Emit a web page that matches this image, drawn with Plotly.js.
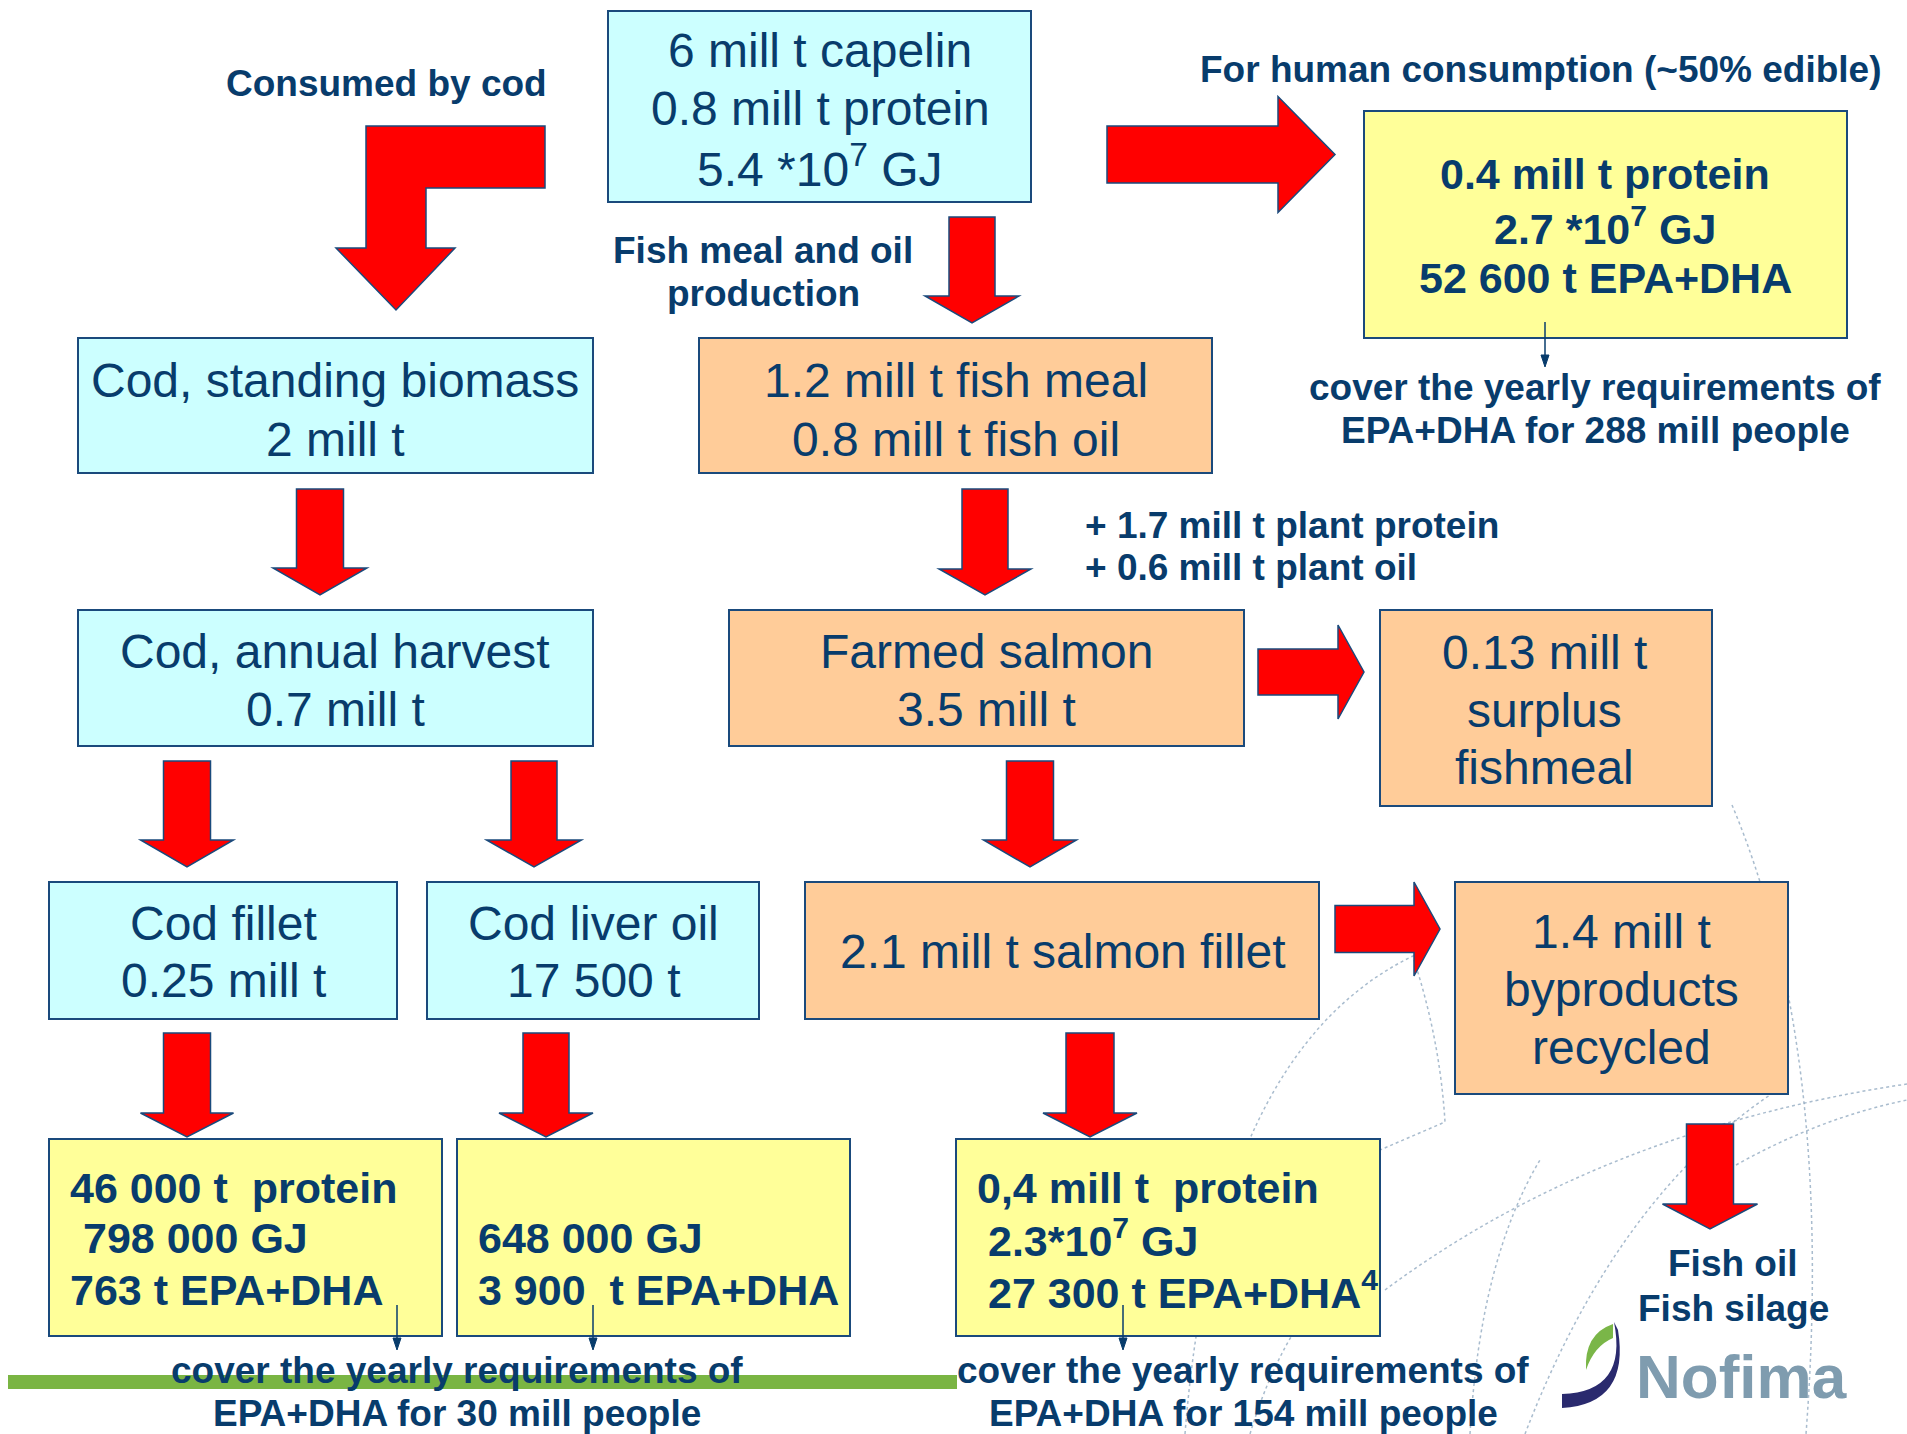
<!DOCTYPE html>
<html><head><meta charset="utf-8">
<script src="https://cdn.plot.ly/plotly-3.0.1.min.js"></script>
<style>html,body{margin:0;padding:0;background:#fff;overflow:hidden}</style>
</head><body><div id="chart" style="width:1907px;height:1434px"></div>
<script>
// ---------- DATA (texts / values) ----------
const capelinText      = ["6 mill t capelin", "0.8 mill t protein", "5.4 *10<sup>7</sup> GJ"];
const codBiomassText   = ["Cod, standing biomass", "2 mill t"];
const fishMealText     = ["1.2 mill t fish meal", "0.8 mill t fish oil"];
const codHarvestText   = ["Cod, annual harvest", "0.7 mill t"];
const salmonText       = ["Farmed salmon", "3.5 mill t"];
const surplusText      = ["0.13 mill t", "surplus", "fishmeal"];
const codFilletText    = ["Cod fillet", "0.25 mill t"];
const codLiverText     = ["Cod liver oil", "17 500 t"];
const salmonFilletText = ["2.1 mill t salmon fillet"];
const byproductText    = ["1.4 mill t", "byproducts", "recycled"];
const humanText        = ["0.4 mill t protein", "2.7 *10<sup>7</sup> GJ", "52 600 t EPA+DHA"];
const codFilletOut     = ["46 000 t\u00A0\u00A0protein", "798 000 GJ", "763 t EPA+DHA"];
const codLiverOut      = ["648 000 GJ", "3 900\u00A0\u00A0t EPA+DHA"];
const salmonOut        = ["0,4 mill t\u00A0\u00A0protein", "2.3*10<sup>7</sup> GJ", "27 300 t EPA+DHA<sup>4</sup>"];
const consumedLabel = ["Consumed by cod"];
const humanLabel    = ["For human consumption (~50% edible)"];
const fishmealLabel = ["Fish meal and oil", "production"];
const plantLabel    = ["+ 1.7 mill t plant protein", "+ 0.6 mill t plant oil"];
const fishoilLabel  = ["Fish oil", "Fish silage"];
const peopleCovered = [288, 30, 154];
const coverLine1 = "cover the yearly requirements of";
const coverLine2 = p => "EPA+DHA for " + p + " mill people";

// ---------- STYLE ----------
const NAVY = "#083C6C", BORDER = "#1A4A7C";
const CYAN = "#CCFFFF", ORANGE = "#FFCC99", YELLOW = "#FFFF99", RED = "#FF0000";
const REG = "Liberation Sans, Arial, sans-serif";
const shapes = [], ann = [];

// decorative dotted arcs (background)
const arcs = [
  "M 1732 805 Q 1835 1050 1806 1434",
  "M 1385 1290 Q 1600 1130 1907 1084",
  "M 1525 1434 Q 1615 1200 1770 1095",
  "M 1736 1165 Q 1820 1118 1907 1100",
  "M 1185 1434 Q 1215 1050 1415 955",
  "M 1414 960 Q 1440 1040 1445 1122 L 1380 1150",
  "M 1470 1434 Q 1480 1260 1540 1160",
  "M 1250 1434 Q 1290 1300 1380 1240"
];
arcs.forEach(p => shapes.push({type:"path", path:p, xref:"x", yref:"y", layer:"below",
  line:{color:"rgba(140,165,190,0.75)", width:1.5, dash:"dot"}}));

function box(x0, y0, x1, y1, fill) {
  shapes.push({type:"rect", xref:"x", yref:"y", x0, y0, x1, y1, fillcolor:fill,
    line:{color:BORDER, width:2}});
}
function txt(x, y, t, size, bold, anchor, color, fam) {
  ann.push({x, y, xref:"x", yref:"y", text: bold ? "<b>"+t+"</b>" : t, showarrow:false,
    xanchor: anchor || "center", yanchor:"middle",
    font:{family: fam || REG, size, color: color || NAVY}});
}
function down(cx, top, hs, tip, sh, hh) {
  const p = `M ${cx-sh} ${top} L ${cx+sh} ${top} L ${cx+sh} ${hs} L ${cx+hh} ${hs} L ${cx} ${tip} L ${cx-hh} ${hs} L ${cx-sh} ${hs} Z`;
  shapes.push({type:"path", path:p, xref:"x", yref:"y", fillcolor:RED, line:{color:BORDER, width:1.5}});
}
function right(left, hs, tip, cy, sh, hh) {
  const p = `M ${left} ${cy-sh} L ${hs} ${cy-sh} L ${hs} ${cy-hh} L ${tip} ${cy} L ${hs} ${cy+hh} L ${hs} ${cy+sh} L ${left} ${cy+sh} Z`;
  shapes.push({type:"path", path:p, xref:"x", yref:"y", fillcolor:RED, line:{color:BORDER, width:1.5}});
}
function thin(x, y0, y1) {
  shapes.push({type:"line", xref:"x", yref:"y", x0:x, x1:x, y0, y1:y1-10, line:{color:NAVY, width:1.5}});
  shapes.push({type:"path", xref:"x", yref:"y", path:`M ${x-4} ${y1-12} L ${x+4} ${y1-12} L ${x} ${y1} Z`,
    fillcolor:NAVY, line:{color:NAVY, width:1}});
}
function lines(arr, cx, ys, size, bold, anchor, xs) {
  arr.forEach((t, i) => txt(xs ? xs[i] : cx, ys[i], t, size, bold, anchor));
}

// green rule under left text
shapes.push({type:"rect", xref:"x", yref:"y", x0:8, x1:957, y0:1375, y1:1389, fillcolor:"#7AB543", line:{width:0}});

// L-shaped arrow (consumed by cod)
shapes.push({type:"path", xref:"x", yref:"y", fillcolor:RED, line:{color:BORDER, width:1.5},
  path:"M 545 126 L 545 188 L 426 188 L 426 248 L 455 248 L 396 310 L 336 248 L 366 248 L 366 126 Z"});

// down arrows
down(972, 217, 296, 323, 23, 47);
down(320, 489, 568, 595, 23.5, 47);
down(985, 489, 569, 595, 23, 46);
down(187, 761, 840, 867, 23.5, 46.5);
down(534, 761, 840, 867, 23, 47.5);
down(1030, 761, 840, 867, 23.5, 46.5);
down(187, 1033, 1113, 1137, 23.5, 46.5);
down(546, 1033, 1113, 1137, 23, 47);
down(1090, 1033, 1113, 1137, 24, 47);
down(1710, 1124, 1204, 1229, 23.5, 47.5);
// right arrows
right(1107, 1278, 1335, 154.5, 28.5, 58);
right(1258, 1338, 1364, 672, 23, 47);
right(1335, 1414, 1440, 929, 23.5, 47);

// boxes
box(608, 11, 1031, 202, CYAN);
box(78, 338, 593, 473, CYAN);
box(699, 338, 1212, 473, ORANGE);
box(78, 610, 593, 746, CYAN);
box(729, 610, 1244, 746, ORANGE);
box(1380, 610, 1712, 806, ORANGE);
box(49, 882, 397, 1019, CYAN);
box(427, 882, 759, 1019, CYAN);
box(805, 882, 1319, 1019, ORANGE);
box(1455, 882, 1788, 1094, ORANGE);
box(1364, 111, 1847, 338, YELLOW);
box(49, 1139, 442, 1336, YELLOW);
box(457, 1139, 850, 1336, YELLOW);
box(956, 1139, 1380, 1336, YELLOW);

// thin arrows
thin(1545, 322, 367);
thin(397, 1305, 1350);
thin(593, 1305, 1350);
thin(1123, 1305, 1350);

// box texts
const BS = 48, YS = 43, AS = 37;
lines(capelinText, 820, [50, 108, 166], BS);
lines(codBiomassText, 335, [380, 439], BS);
lines(fishMealText, 956, [380, 439], BS);
lines(codHarvestText, 335, [651, 709], BS);
lines(salmonText, 986, [651, 709], BS);
lines(surplusText, 1544, [652, 710, 767], BS);
lines(codFilletText, 223, [923, 980], BS);
lines(codLiverText, 593, [923, 980], BS);
lines(salmonFilletText, 1062, [951], BS);
lines(byproductText, 1621, [931, 989, 1047], BS);
lines(humanText, 1605, [174, 226, 278], YS, true);
lines(codFilletOut, 0, [1188, 1238, 1290], YS, true, "left", [68, 81, 68]);
lines(codLiverOut, 0, [1238, 1290], YS, true, "left", [476, 476]);
lines(salmonOut, 0, [1188, 1238, 1290], YS, true, "left", [975, 986, 986]);

// flow labels
txt(386, 83, consumedLabel[0], AS, true);
txt(1540, 69, humanLabel[0], AS, true);
lines(fishmealLabel, 763, [250, 293], AS, true);
lines(plantLabel, 0, [525, 567], AS, true, "left", [1083, 1083]);
lines(fishoilLabel, 1733, [1263, 1308], AS, true);

// coverage notes
txt(1595, 387, coverLine1, AS, true); txt(1595, 430, coverLine2(peopleCovered[0]), AS, true);
txt(457, 1370, coverLine1, AS, true); txt(457, 1413, coverLine2(peopleCovered[1]), AS, true);
txt(1243, 1370, coverLine1, AS, true); txt(1243, 1413, coverLine2(peopleCovered[2]), AS, true);

// Nofima logo
shapes.push({type:"path", xref:"x", yref:"y", fillcolor:"#7AB648", line:{width:0},
  path:"M 1613 1324 Q 1584 1334 1586 1370 Q 1594 1346 1613 1338 Z"});
shapes.push({type:"path", xref:"x", yref:"y", fillcolor:"#2A2A6E", line:{width:0},
  path:"M 1614 1322 Q 1628 1392 1562 1394 L 1562 1408 Q 1630 1404 1618 1330 Z"});
txt(1741, 1376, "Nofima", 62, true, "center", "#7F9CAF");

Plotly.newPlot("chart", [{x:[0], y:[0], mode:"markers", marker:{opacity:0}, hoverinfo:"skip", showlegend:false}], {
  width:1907, height:1434, autosize:false,
  margin:{l:0, r:0, t:0, b:0},
  paper_bgcolor:"#fff", plot_bgcolor:"#fff",
  xaxis:{range:[0,1907], visible:false, fixedrange:true},
  yaxis:{range:[1434,0], visible:false, fixedrange:true},
  shapes, annotations:ann, showlegend:false
}, {staticPlot:true, displayModeBar:false});
</script></body></html>
